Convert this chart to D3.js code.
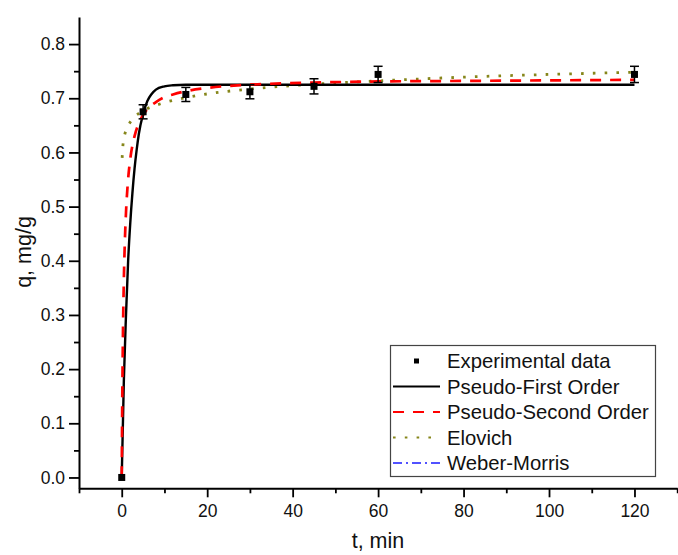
<!DOCTYPE html>
<html>
<head>
<meta charset="utf-8">
<script src="https://cdn.jsdelivr.net/npm/d3@7"></script>
<style>
	html, body { margin: 0; padding: 0; background: #fff; }
	svg { display: block; font-family: Arial, "Liberation Sans", sans-serif; }
	.axis path, .axis line { stroke: #000; }
	.axis text { font-size: 17.5px; fill: #111; }
</style>
</head>
<body>
<svg id="chart" width="678" height="555"></svg>
<script>
// experimental points
var expTime = [0, 5, 15, 30, 45, 60, 120],
		expQ = [0, 0.675, 0.707, 0.712, 0.722, 0.744, 0.744],
		expErr = [0, 0.013, 0.013, 0.013, 0.014, 0.015, 0.015];

// fitted curves
var pfoTime = [0, 0.5, 1, 1.5, 2, 2.5, 3, 3.5, 4, 5, 6, 7, 8, 10, 12, 15, 20, 30, 45, 60, 80, 100, 120],
		pfoQ = [0, 0.18, 0.30, 0.40, 0.47, 0.525, 0.57, 0.605, 0.634, 0.671, 0.695, 0.708, 0.716, 0.722, 0.724, 0.725, 0.725, 0.725, 0.725, 0.725, 0.725, 0.725, 0.725];

var psoTime = [0, 0.1, 0.25, 0.5, 0.75, 1, 1.5, 2, 3, 4, 5, 6, 8, 10, 12, 15, 20, 30, 45, 60, 80, 100, 120],
		psoQ = [0, 0.121, 0.243, 0.366, 0.44, 0.489, 0.551, 0.588, 0.63, 0.654, 0.669, 0.68, 0.693, 0.702, 0.707, 0.713, 0.719, 0.725, 0.729, 0.731, 0.732, 0.733, 0.734];

var eloTime = [0.1, 0.2, 0.4, 0.7, 1, 1.5, 2, 3, 4, 5, 6, 8, 10, 15, 20, 30, 45, 60, 80, 100, 120],
		eloQ = [0.59, 0.605, 0.621, 0.633, 0.641, 0.65, 0.656, 0.666, 0.672, 0.677, 0.681, 0.687, 0.692, 0.701, 0.708, 0.717, 0.726, 0.732, 0.739, 0.744, 0.748];

var xTicks = [0, 20, 40, 60, 80, 100, 120],
		xMinor = [-10, 10, 30, 50, 70, 90, 110, 130],
		yTicks = [0.0, 0.1, 0.2, 0.3, 0.4, 0.5, 0.6, 0.7, 0.8],
		yMinor = [0.05, 0.15, 0.25, 0.35, 0.45, 0.55, 0.65, 0.75];

var legendNames = ["Experimental data", "Pseudo-First Order", "Pseudo-Second Order", "Elovich", "Weber-Morris"];

var styles = {
	pfo: {color: "#000", width: 2.4, dash: null},
	pso: {color: "#ff0000", width: 2.7, dash: "11,9"},
	elo: {color: "#86861a", width: 2.8, dash: "2.6,9.2"},
	wm: {color: "#1a1aff", width: 1.6, dash: "9,4,2,4"}
};

var svg = d3.select("#chart");

var x = d3.scaleLinear().domain([-10, 130]).range([79, 677.2]),
		y = d3.scaleLinear().domain([-0.02, 0.85]).range([488.3, 17]);

// axes
svg.append("g")
		.attr("class", "axis axis--x")
		.attr("transform", "translate(0,488.3)")
		.call(d3.axisBottom(x).tickValues(xTicks).tickFormat(d3.format("d")).tickSize(9).tickSizeOuter(0).tickPadding(7));
svg.append("g")
		.attr("class", "axis axis--x-minor")
		.attr("transform", "translate(0,488.3)")
		.call(d3.axisBottom(x).tickValues(xMinor).tickFormat("").tickSize(5).tickSizeOuter(0))
		.select(".domain").remove();

svg.append("g")
		.attr("class", "axis axis--y")
		.attr("transform", "translate(79,0)")
		.call(d3.axisLeft(y).tickValues(yTicks).tickFormat(d3.format(".1f")).tickSize(10).tickSizeOuter(0).tickPadding(4));
svg.append("g")
		.attr("class", "axis axis--y-minor")
		.attr("transform", "translate(79,0)")
		.call(d3.axisLeft(y).tickValues(yMinor).tickFormat("").tickSize(5).tickSizeOuter(0))
		.select(".domain").remove();

svg.selectAll(".axis .domain").attr("stroke-width", 2);
svg.selectAll(".axis line").attr("stroke-width", 1.8);

svg.append("text")
		.attr("x", 378)
		.attr("y", 548)
		.attr("text-anchor", "middle")
		.style("font-size", "21.5px")
		.attr("fill", "#111")
		.text("t, min");

svg.append("text")
		.attr("transform", "translate(31,252) rotate(-90)")
		.attr("text-anchor", "middle")
		.style("font-size", "21.5px")
		.attr("fill", "#111")
		.text("q, mg/g");

// curves
var line = d3.line()
		.curve(d3.curveMonotoneX)
		.x(function(d) { return x(d[0]); })
		.y(function(d) { return y(d[1]); });

function drawCurve(times, values, st) {
	var pts = times.map(function(t, i) { return [t, values[i]]; });
	svg.append("path")
			.datum(pts)
			.attr("fill", "none")
			.attr("stroke", st.color)
			.attr("stroke-width", st.width)
			.attr("stroke-dasharray", st.dash)
			.attr("d", line);
}

drawCurve(eloTime, eloQ, styles.elo);
drawCurve(pfoTime, pfoQ, styles.pfo);
drawCurve(psoTime, psoQ, styles.pso);

// experimental data with error bars
var pts = svg.append("g").attr("class", "points");
expTime.forEach(function(t, i) {
	var cx = x(t),
			lo = y(expQ[i] - expErr[i]),
			hi = y(expQ[i] + expErr[i]);
	if(expErr[i] > 0) {
		pts.append("line").attr("x1", cx).attr("x2", cx).attr("y1", lo).attr("y2", hi)
			.attr("stroke", "#000").attr("stroke-width", 1.5);
		[lo, hi].forEach(function(yy) {
			pts.append("line").attr("x1", cx - 4.5).attr("x2", cx + 4.5).attr("y1", yy).attr("y2", yy)
				.attr("stroke", "#000").attr("stroke-width", 1.5);
		});
	}
	pts.append("rect")
			.attr("x", cx - 3.5)
			.attr("y", y(expQ[i]) - 3.5)
			.attr("width", 7)
			.attr("height", 7)
			.attr("fill", "#000");
});

// legend
var legend = svg.append("g").attr("class", "legend");
legend.append("rect")
		.attr("x", 390.5)
		.attr("y", 345.5)
		.attr("width", 265)
		.attr("height", 131)
		.attr("fill", "#fff")
		.attr("stroke", "#444")
		.attr("stroke-width", 1.2);

var legendStyles = [null, styles.pfo, styles.pso, styles.elo, styles.wm];
legendNames.forEach(function(name, i) {
	var cy = 361 + i * 25.5;
	if(i === 0) {
		legend.append("rect")
				.attr("x", 414)
				.attr("y", cy - 2.5)
				.attr("width", 5)
				.attr("height", 5)
				.attr("fill", "#000");
	} else {
		var st = legendStyles[i];
		legend.append("line")
				.attr("x1", 393)
				.attr("x2", 440)
				.attr("y1", cy)
				.attr("y2", cy)
				.attr("stroke", st.color)
				.attr("stroke-width", i === 4 ? 1.6 : 2)
				.attr("stroke-dasharray", st.dash);
	}
	legend.append("text")
			.attr("x", 447)
			.attr("y", cy + 7)
			.style("font-size", "20.3px")
			.attr("fill", "#111")
			.text(name);
});
</script>
</body>
</html>
